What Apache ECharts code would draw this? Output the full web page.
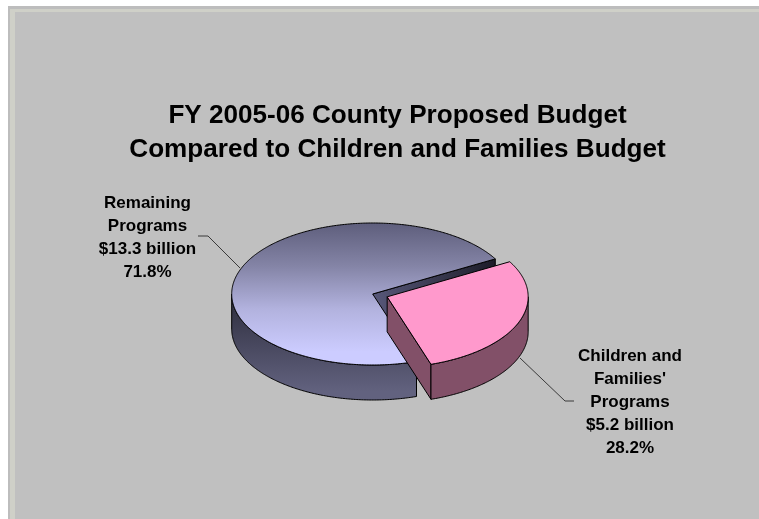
<!DOCTYPE html>
<html>
<head>
<meta charset="utf-8">
<style>html,body{margin:0;padding:0;background:#fff}#chart{width:759px;height:519px}</style>
<script src="https://cdn.jsdelivr.net/npm/echarts@6/dist/echarts.min.js"></script>
</head>
<body>
<div id="chart"></div>
<script>
// Budget split, FY 2005-06; the larger share is painted first so the pulled-out slice overlaps it
const categories = ["Remaining Programs", "Children and Families' Programs"];
const labelLines = [["Remaining", "Programs"], ["Children and", "Families'", "Programs"]];
const billions = [13.3, 5.2];
const shares = [71.8, 28.2];
const titleLines = ["FY 2005-06 County Proposed Budget", "Compared to Children and Families Budget"];

// Tilted-disc geometry
const CX = 372.7, CY = 294, RX = 141, RY = 71, DEPTH = 35;
const START = 71.9, EXPLODE = 0.11;
const FONT = '"Liberation Sans", Arial, sans-serif';

const rad = d => d * Math.PI / 180;
const rimPoint = (t, ox, oy, dy) => [ox + RX * Math.cos(rad(t)), oy + RY * Math.sin(rad(t)) + dy];
function arcPoints(a, b, ox, oy, dy) {
  const n = Math.max(2, Math.ceil(Math.abs(b - a) * 1.5)), out = [];
  for (let i = 0; i <= n; i++) out.push(rimPoint(a + (b - a) * i / n, ox, oy, dy));
  return out;
}
const vGrad = (y0, y1, stops) => ({
  type: 'linear', x: 0, y: y0, x2: 0, y2: y1, global: true,
  colorStops: stops.map((c, i) => ({ offset: i / (stops.length - 1), color: c }))
});
const edge = { stroke: '#000', lineWidth: 1, lineJoin: 'round' };
const poly = (points, fill) => ({ type: 'polygon', shape: { points }, style: Object.assign({ fill }, edge) });

const sliceStyles = [
  {
    top: vGrad(223, 352, ['#5e5e7c', '#8484a6', '#b2b2de', '#ccccff']),
    wall: vGrad(298, 392, ['#2e2e3e', '#62627f']),
    cut: { type: 'linear', x: 495, y: 0, x2: 373, y2: 0, global: true,
      colorStops: [{ offset: 0, color: '#1c1c28' }, { offset: 1, color: '#58587a' }] }
  },
  { top: '#ff99cc', wall: '#825068', cut: '#825068' }
];

const anchors = [
  { x: 147.5, y: 203, line: [[198, 236], [208, 236], [240, 268]] },
  { x: 630, y: 356, line: [[520, 358], [565, 401], [574, 401]] }
];

function renderSlice(params, api) {
  const i = params.dataIndex;
  const before = shares.slice(0, i).reduce((s, v) => s + v, 0);
  const a = START + before * 3.6, b = a + api.value(1) * 3.6;
  const mid = rad((a + b) / 2);
  const off = i === 1 ? EXPLODE : 0;
  const ox = CX + RX * off * Math.cos(mid), oy = CY + RY * off * Math.sin(mid);
  const st = sliceStyles[i];
  const children = [];

  // Cut face at the clockwise end of the slice, the one turned toward the viewer
  const r = rimPoint(b, ox, oy, 0);
  children.push(poly([[ox, oy], r, [r[0], r[1] + DEPTH], [ox, oy + DEPTH]], st.cut));

  // Outer wall: only the stretch of rim in front of the disc
  const low = i === 0 ? a : 360, high = i === 0 ? 180 : b;
  children.push(poly(arcPoints(low, high, ox, oy, 0).concat(arcPoints(high, low, ox, oy, DEPTH)), st.wall));

  // Top face
  children.push(poly([[ox, oy]].concat(arcPoints(a, b, ox, oy, 0)), st.top));

  // Leader line and label
  const an = anchors[i];
  children.push({
    type: 'polyline', shape: { points: an.line },
    style: { stroke: '#3a3a3a', lineWidth: 1, fill: null }
  });
  const text = labelLines[i].concat(['$' + api.value(0).toFixed(1) + ' billion', api.value(1).toFixed(1) + '%']).join('\n');
  children.push({
    type: 'text', x: an.x, y: an.y - 11.5,
    style: { text, fill: '#000', font: 'bold 17px ' + FONT, lineHeight: 23, align: 'center', verticalAlign: 'top' }
  });
  return { type: 'group', children };
}

const chart = echarts.init(document.getElementById('chart'), null, { renderer: 'canvas' });
chart.setOption({
  animation: false,
  backgroundColor: '#ffffff',
  graphic: [
    { type: 'rect', z: 0, shape: { x: 8, y: 6, width: 751, height: 513 }, style: { fill: '#bdbdbd' } },
    { type: 'rect', z: 0, shape: { x: 10, y: 9, width: 749, height: 510 }, style: { fill: '#cfd0c8' } },
    { type: 'rect', z: 0, shape: { x: 15, y: 12, width: 744, height: 507 }, style: { fill: '#c0c0c0' } },
    {
      type: 'text', z: 5, x: 397.5, y: 99.5,
      style: { text: titleLines.join('\n'), fill: '#000', font: 'bold 26.1px ' + FONT, lineHeight: 33.5, align: 'center', verticalAlign: 'top' }
    }
  ],
  series: [{
    type: 'custom',
    coordinateSystem: 'none',
    z: 3,
    silent: true,
    renderItem: renderSlice,
    data: categories.map((name, i) => ({ name, value: [billions[i], shares[i]] })),
    encode: { value: [0, 1] }
  }]
});
</script>
</body>
</html>
